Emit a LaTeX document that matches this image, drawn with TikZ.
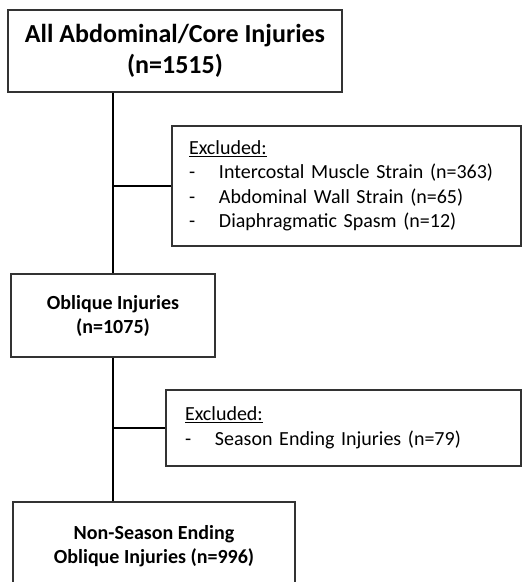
\documentclass[tikz,border=0pt]{standalone}
\usepackage{fontspec}
\setmainfont{Carlito}
\usepackage{tikz}
\usetikzlibrary{positioning,calc}

\begin{document}
\begin{tikzpicture}[
    x=1pt, y=-1pt,
    box/.style={rectangle, draw=black!80, line width=1.1pt, align=center, inner sep=0pt},
    mainbox/.style={box, font=\bfseries},
    exclbox/.style={box, align=left, font=\fontsize{20}{24.5}\selectfont, text width=#1},
    link/.style={line width=2pt, black}
]
    % --- page frame ---
    \useasboundingbox (0,0) rectangle (522,582);
    \clip (0,0) rectangle (522,582);

    % --- main flow boxes ---
    \node[mainbox, minimum width=334pt, minimum height=82pt,
          font=\bfseries\fontsize{26}{30.5}\selectfont] (all) at (175,51)
        {All Abdominal/Core Injuries\\(n=1515)};
    \node[mainbox, minimum width=204pt, minimum height=83pt,
          font=\bfseries\fontsize{20}{24}\selectfont] (obl) at (113,315.5)
        {Oblique Injuries\\(n=1075)};
    \node[mainbox, minimum width=282pt, minimum height=88pt,
          font=\bfseries\fontsize{20}{23.5}\selectfont] (final) at (154,546)
        {Non-Season Ending\\Oblique Injuries (n=996)};

    % --- exclusion boxes ---
    \node[exclbox=315pt, inner xsep=17pt, minimum height=120pt] (excl1) at (346.5,186)
        {\underline{Excluded:}\\
         \makebox[30pt][l]{-}Intercostal Muscle Strain (n=363)\\
         \makebox[30pt][l]{-}Abdominal Wall Strain (n=65)\\
         \makebox[30pt][l]{-}Diaphragmatic Spasm (n=12)\\[6pt]};
    \node[exclbox=317pt, inner xsep=19pt, minimum height=76pt] (excl2) at (343.5,428)
        {\underline{Excluded:}\\
         \makebox[30pt][l]{-}Season Ending Injuries (n=79)\\[14pt]};

    % --- connections ---
    \draw[link] (obl.north |- all.south) -- (obl.north);
    \draw[link] (excl1.west -| obl.north) -- (excl1.west);
    \draw[link] (obl.south) -- (obl.south |- final.north);
    \draw[link] (excl2.west -| obl.south) -- (excl2.west);
\end{tikzpicture}
\end{document}
